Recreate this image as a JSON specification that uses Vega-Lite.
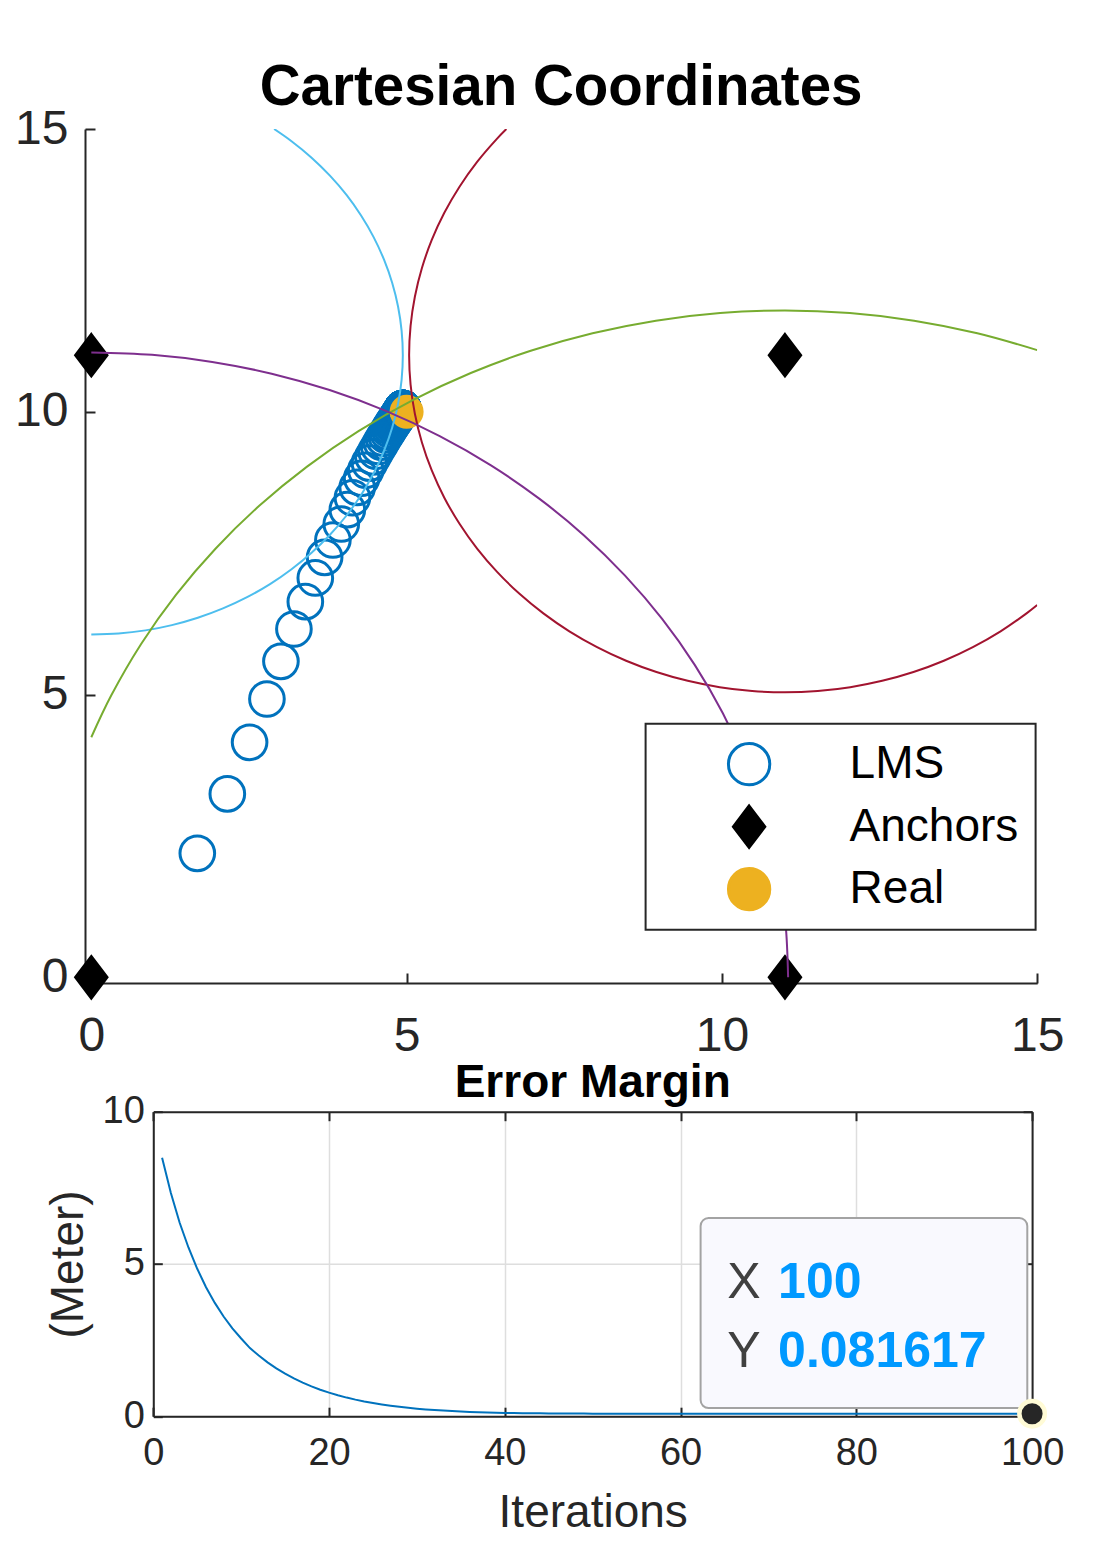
{
  "$schema": "https://vega.github.io/schema/vega-lite/v6.json",
  "background": "white",
  "padding": {"left": 14, "top": 59, "right": 10, "bottom": 10},
  "bounds": "flush",
  "spacing": 128.7,
  "datasets": {
    "lms": [
      {"k":1,"x":1.681,"y":2.192,"e":8.484},{"k":2,"x":2.157,"y":3.243,"e":7.331},{"k":3,"x":2.510,"y":4.155,"e":6.353},{"k":4,"x":2.785,"y":4.922,"e":5.540},{"k":5,"x":3.007,"y":5.587,"e":4.842},
      {"k":6,"x":3.213,"y":6.160,"e":4.236},{"k":7,"x":3.394,"y":6.643,"e":3.721},{"k":8,"x":3.552,"y":7.062,"e":3.275},{"k":9,"x":3.700,"y":7.426,"e":2.884},{"k":10,"x":3.831,"y":7.733,"e":2.551},
      {"k":11,"x":3.964,"y":8.016,"e":2.238},{"k":12,"x":4.060,"y":8.269,"e":1.991},{"k":13,"x":4.141,"y":8.479,"e":1.768},{"k":14,"x":4.217,"y":8.663,"e":1.570},{"k":15,"x":4.287,"y":8.824,"e":1.395},
      {"k":16,"x":4.352,"y":8.967,"e":1.240},{"k":17,"x":4.411,"y":9.093,"e":1.101},{"k":18,"x":4.465,"y":9.203,"e":0.978},{"k":19,"x":4.514,"y":9.301,"e":0.870},{"k":20,"x":4.558,"y":9.387,"e":0.773},
      {"k":21,"x":4.599,"y":9.463,"e":0.688},{"k":22,"x":4.635,"y":9.531,"e":0.611},{"k":23,"x":4.668,"y":9.591,"e":0.544},{"k":24,"x":4.697,"y":9.643,"e":0.485},{"k":25,"x":4.723,"y":9.689,"e":0.433},
      {"k":26,"x":4.746,"y":9.731,"e":0.386},{"k":27,"x":4.767,"y":9.768,"e":0.345},{"k":28,"x":4.786,"y":9.800,"e":0.308},{"k":29,"x":4.803,"y":9.829,"e":0.276},{"k":30,"x":4.818,"y":9.855,"e":0.248},
      {"k":31,"x":4.832,"y":9.877,"e":0.2234},{"k":32,"x":4.843,"y":9.897,"e":0.2022},{"k":33,"x":4.854,"y":9.915,"e":0.1832},{"k":34,"x":4.864,"y":9.931,"e":0.1673},{"k":35,"x":4.872,"y":9.945,"e":0.1526},
      {"k":36,"x":4.880,"y":9.957,"e":0.1410},{"k":37,"x":4.886,"y":9.968,"e":0.1306},{"k":38,"x":4.892,"y":9.978,"e":0.1219},{"k":39,"x":4.897,"y":9.986,"e":0.1146},{"k":40,"x":4.902,"y":9.994,"e":0.1085},
      {"k":41,"x":4.906,"y":10.001,"e":0.1034},{"k":42,"x":4.910,"y":10.007,"e":0.0992},{"k":43,"x":4.913,"y":10.012,"e":0.0958},{"k":44,"x":4.916,"y":10.017,"e":0.0930},{"k":45,"x":4.919,"y":10.021,"e":0.0907},
      {"k":46,"x":4.921,"y":10.025,"e":0.0888},{"k":47,"x":4.923,"y":10.029,"e":0.0873},{"k":48,"x":4.925,"y":10.032,"e":0.0862},{"k":49,"x":4.927,"y":10.034,"e":0.0852},{"k":50,"x":4.928,"y":10.036,"e":0.0845},
      {"k":51,"x":4.930,"y":10.038,"e":0.0839},{"k":52,"x":4.931,"y":10.040,"e":0.0834},{"k":53,"x":4.932,"y":10.042,"e":0.0830},{"k":54,"x":4.933,"y":10.043,"e":0.0827},{"k":55,"x":4.934,"y":10.045,"e":0.0825},
      {"k":56,"x":4.935,"y":10.046,"e":0.0823},{"k":57,"x":4.935,"y":10.047,"e":0.0822},{"k":58,"x":4.936,"y":10.048,"e":0.0821},{"k":59,"x":4.936,"y":10.049,"e":0.0820},{"k":60,"x":4.937,"y":10.050,"e":0.0819},
      {"k":61,"x":4.937,"y":10.050,"e":0.0818},{"k":62,"x":4.937,"y":10.051,"e":0.0818},{"k":63,"x":4.938,"y":10.051,"e":0.0818},{"k":64,"x":4.938,"y":10.052,"e":0.0818},{"k":65,"x":4.938,"y":10.052,"e":0.0817},
      {"k":66,"x":4.938,"y":10.053,"e":0.0817},{"k":67,"x":4.939,"y":10.053,"e":0.0817},{"k":68,"x":4.939,"y":10.053,"e":0.0817},{"k":69,"x":4.939,"y":10.053,"e":0.0817},{"k":70,"x":4.939,"y":10.054,"e":0.0817},
      {"k":71,"x":4.939,"y":10.054,"e":0.0817},{"k":72,"x":4.939,"y":10.054,"e":0.0817},{"k":73,"x":4.939,"y":10.054,"e":0.0816},{"k":74,"x":4.939,"y":10.054,"e":0.0816},{"k":75,"x":4.940,"y":10.054,"e":0.0816},
      {"k":76,"x":4.940,"y":10.054,"e":0.0816},{"k":77,"x":4.940,"y":10.054,"e":0.0816},{"k":78,"x":4.940,"y":10.055,"e":0.0816},{"k":79,"x":4.940,"y":10.055,"e":0.0816},{"k":80,"x":4.940,"y":10.055,"e":0.0816},
      {"k":81,"x":4.940,"y":10.055,"e":0.0816},{"k":82,"x":4.940,"y":10.055,"e":0.0816},{"k":83,"x":4.940,"y":10.055,"e":0.0816},{"k":84,"x":4.940,"y":10.055,"e":0.0816},{"k":85,"x":4.940,"y":10.055,"e":0.0816},
      {"k":86,"x":4.940,"y":10.055,"e":0.0816},{"k":87,"x":4.940,"y":10.055,"e":0.0816},{"k":88,"x":4.940,"y":10.055,"e":0.0816},{"k":89,"x":4.940,"y":10.055,"e":0.0816},{"k":90,"x":4.940,"y":10.055,"e":0.0816},
      {"k":91,"x":4.940,"y":10.055,"e":0.0816},{"k":92,"x":4.940,"y":10.055,"e":0.0816},{"k":93,"x":4.940,"y":10.055,"e":0.0816},{"k":94,"x":4.940,"y":10.055,"e":0.0816},{"k":95,"x":4.940,"y":10.055,"e":0.0816},
      {"k":96,"x":4.940,"y":10.055,"e":0.0816},{"k":97,"x":4.940,"y":10.055,"e":0.0816},{"k":98,"x":4.940,"y":10.055,"e":0.0816},{"k":99,"x":4.940,"y":10.055,"e":0.0816},{"k":100,"x":4.940,"y":10.055,"e":0.081617}
    ],
    "arcs": [
      {"a":"b","i":0,"x":2.899,"y":15.0},{"a":"b","i":1,"x":3.175,"y":14.784},{"a":"b","i":2,"x":3.493,"y":14.493},{"a":"b","i":3,"x":3.784,"y":14.175},{"a":"b","i":4,"x":4.047,"y":13.834},
      {"a":"b","i":5,"x":4.278,"y":13.470},{"a":"b","i":6,"x":4.477,"y":13.088},{"a":"b","i":7,"x":4.642,"y":12.689},{"a":"b","i":8,"x":4.772,"y":12.278},{"a":"b","i":9,"x":4.865,"y":11.858},
      {"a":"b","i":10,"x":4.921,"y":11.431},{"a":"b","i":11,"x":4.940,"y":11.0},{"a":"b","i":12,"x":4.921,"y":10.569},{"a":"b","i":13,"x":4.865,"y":10.142},{"a":"b","i":14,"x":4.772,"y":9.722},
      {"a":"b","i":15,"x":4.642,"y":9.311},{"a":"b","i":16,"x":4.477,"y":8.912},{"a":"b","i":17,"x":4.278,"y":8.530},{"a":"b","i":18,"x":4.047,"y":8.166},{"a":"b","i":19,"x":3.784,"y":7.825},
      {"a":"b","i":20,"x":3.493,"y":7.507},{"a":"b","i":21,"x":3.175,"y":7.216},{"a":"b","i":22,"x":2.834,"y":6.953},{"a":"b","i":23,"x":2.470,"y":6.722},{"a":"b","i":24,"x":2.088,"y":6.523},
      {"a":"b","i":25,"x":1.689,"y":6.358},{"a":"b","i":26,"x":1.278,"y":6.228},{"a":"b","i":27,"x":0.858,"y":6.135},{"a":"b","i":28,"x":0.431,"y":6.079},{"a":"b","i":29,"x":0.0,"y":6.060},
      {"a":"r","i":0,"x":6.582,"y":15.0},{"a":"r","i":1,"x":6.435,"y":14.831},{"a":"r","i":2,"x":6.118,"y":14.419},{"a":"r","i":3,"x":5.839,"y":13.980},{"a":"r","i":4,"x":5.598,"y":13.519},
      {"a":"r","i":5,"x":5.399,"y":13.038},{"a":"r","i":6,"x":5.243,"y":12.542},{"a":"r","i":7,"x":5.131,"y":12.035},{"a":"r","i":8,"x":5.063,"y":11.520},{"a":"r","i":9,"x":5.040,"y":11.0},
      {"a":"r","i":10,"x":5.063,"y":10.480},{"a":"r","i":11,"x":5.131,"y":9.965},{"a":"r","i":12,"x":5.243,"y":9.458},{"a":"r","i":13,"x":5.399,"y":8.962},{"a":"r","i":14,"x":5.598,"y":8.481},
      {"a":"r","i":15,"x":5.839,"y":8.020},{"a":"r","i":16,"x":6.118,"y":7.581},{"a":"r","i":17,"x":6.435,"y":7.169},{"a":"r","i":18,"x":6.786,"y":6.786},{"a":"r","i":19,"x":7.169,"y":6.435},
      {"a":"r","i":20,"x":7.581,"y":6.118},{"a":"r","i":21,"x":8.020,"y":5.839},{"a":"r","i":22,"x":8.481,"y":5.598},{"a":"r","i":23,"x":8.962,"y":5.399},{"a":"r","i":24,"x":9.458,"y":5.243},
      {"a":"r","i":25,"x":9.965,"y":5.131},{"a":"r","i":26,"x":10.480,"y":5.063},{"a":"r","i":27,"x":11.0,"y":5.040},{"a":"r","i":28,"x":11.520,"y":5.063},{"a":"r","i":29,"x":12.035,"y":5.131},
      {"a":"r","i":30,"x":12.542,"y":5.243},{"a":"r","i":31,"x":13.038,"y":5.399},{"a":"r","i":32,"x":13.519,"y":5.598},{"a":"r","i":33,"x":13.980,"y":5.839},{"a":"r","i":34,"x":14.419,"y":6.118},
      {"a":"r","i":35,"x":14.831,"y":6.435},{"a":"r","i":36,"x":15.0,"y":6.582},
      {"a":"g","i":0,"x":0.0,"y":4.245},{"a":"g","i":1,"x":0.315,"y":4.982},{"a":"g","i":2,"x":0.790,"y":5.895},{"a":"g","i":3,"x":1.342,"y":6.763},{"a":"g","i":4,"x":1.969,"y":7.579},
      {"a":"g","i":5,"x":2.663,"y":8.337},{"a":"g","i":6,"x":3.421,"y":9.031},{"a":"g","i":7,"x":4.237,"y":9.658},{"a":"g","i":8,"x":5.105,"y":10.210},{"a":"g","i":9,"x":6.018,"y":10.685},
      {"a":"g","i":10,"x":6.968,"y":11.079},{"a":"g","i":11,"x":7.949,"y":11.388},{"a":"g","i":12,"x":8.953,"y":11.611},{"a":"g","i":13,"x":9.972,"y":11.745},{"a":"g","i":14,"x":11.0,"y":11.790},
      {"a":"g","i":15,"x":12.028,"y":11.745},{"a":"g","i":16,"x":13.047,"y":11.611},{"a":"g","i":17,"x":14.051,"y":11.388},{"a":"g","i":18,"x":15.0,"y":11.090},
      {"a":"p","i":0,"x":0.0,"y":11.05},{"a":"p","i":1,"x":0.963,"y":11.008},{"a":"p","i":2,"x":1.918,"y":10.882},{"a":"p","i":3,"x":2.860,"y":10.673},{"a":"p","i":4,"x":3.779,"y":10.384},
      {"a":"p","i":5,"x":4.670,"y":10.015},{"a":"p","i":6,"x":5.525,"y":9.569},{"a":"p","i":7,"x":6.338,"y":9.052},{"a":"p","i":8,"x":7.103,"y":8.464},{"a":"p","i":9,"x":7.814,"y":7.814},
      {"a":"p","i":10,"x":8.464,"y":7.103},{"a":"p","i":11,"x":9.052,"y":6.338},{"a":"p","i":12,"x":9.569,"y":5.525},{"a":"p","i":13,"x":10.015,"y":4.670},{"a":"p","i":14,"x":10.384,"y":3.779},
      {"a":"p","i":15,"x":10.673,"y":2.860},{"a":"p","i":16,"x":10.882,"y":1.918},{"a":"p","i":17,"x":11.008,"y":0.963},{"a":"p","i":18,"x":11.05,"y":0.0}
    ],
    "anchors": [{"x":0,"y":0},{"x":0,"y":11},{"x":11,"y":11},{"x":11,"y":0}],
    "real": [{"x":5,"y":10}],
    "tip": [{"k":100,"e":0.081617}]
  },
  "vconcat": [
    {
      "width": 952.2,
      "height": 854,
      "title": {"text": "Cartesian Coordinates", "fontSize": 56.5, "fontWeight": "bold", "color": "black", "anchor": "middle", "offset": -11.3},
      "encoding": {
        "x": {"field": "x", "type": "quantitative", "scale": {"domain": [-0.1, 15], "nice": false, "zero": false},
              "axis": {"values": [0, 5, 10, 15], "format": "d", "title": null, "grid": false, "tickSize": -10, "labelPadding": 39, "labelFontSize": 48}},
        "y": {"field": "y", "type": "quantitative", "scale": {"domain": [-0.1, 15], "nice": false, "zero": false},
              "axis": {"values": [0, 5, 10, 15], "format": "d", "title": null, "grid": false, "tickSize": -10, "labelPadding": 27, "labelFontSize": 48}}
      },
      "layer": [
        {
          "data": {"name": "lms"},
          "mark": {"type": "point", "filled": true, "strokeWidth": 3, "opacity": 1, "size": 1200},
          "encoding": {
            "fill": {"datum": "LMS", "type": "nominal", "title": null,
                     "scale": {"domain": ["LMS", "Anchors", "Real"], "range": ["transparent", "black", "#EDB120"]},
                     "legend": {"encode": {"symbols": {"update": {"size": {"signal": "datum.value === 'Anchors' ? 1706 : datum.value === 'Real' ? 961 : 1200"}}}}}},
            "stroke": {"datum": "LMS", "type": "nominal", "title": null,
                       "scale": {"domain": ["LMS", "Anchors", "Real"], "range": ["#0072BD", "black", "#EDB120"]},
                       "legend": {"encode": {"symbols": {"update": {"size": {"signal": "datum.value === 'Anchors' ? 1706 : datum.value === 'Real' ? 961 : 1200"}}}}}},
            "shape": {"datum": "LMS", "type": "nominal", "title": null,
                      "scale": {"domain": ["LMS", "Anchors", "Real"], "range": ["circle", "M0,-1L0.758,0L0,1L-0.758,0Z", "circle"]},
                      "legend": {"encode": {"symbols": {"update": {"size": {"signal": "datum.value === 'Anchors' ? 1706 : datum.value === 'Real' ? 961 : 1200"}}}}}}
          }
        },
        {
          "data": {"name": "anchors"},
          "mark": {"type": "point", "filled": true, "strokeWidth": 3, "opacity": 1, "size": 1706},
          "encoding": {
            "fill": {"datum": "Anchors", "type": "nominal", "title": null},
            "stroke": {"datum": "Anchors", "type": "nominal", "title": null},
            "shape": {"datum": "Anchors", "type": "nominal", "title": null}
          }
        },
        {
          "data": {"name": "real"},
          "mark": {"type": "point", "filled": true, "strokeWidth": 3, "opacity": 1, "size": 961},
          "encoding": {
            "fill": {"datum": "Real", "type": "nominal", "title": null},
            "stroke": {"datum": "Real", "type": "nominal", "title": null},
            "shape": {"datum": "Real", "type": "nominal", "title": null}
          }
        },
        {
          "data": {"name": "arcs"},
          "mark": {"type": "line", "strokeWidth": 2, "clip": true, "interpolate": "catmull-rom"},
          "encoding": {
            "color": {"field": "a", "type": "nominal", "scale": {"domain": ["b", "r", "g", "p"], "range": ["#4DBEEE", "#A2142F", "#77AC30", "#7E2F8E"]}, "legend": null},
            "order": {"field": "i", "type": "quantitative"}
          }
        }
      ]
    },
    {
      "width": 947.1,
      "height": 304.5,
      "title": {"text": "Error Margin", "fontSize": 46, "fontWeight": "bold", "color": "black", "anchor": "middle", "offset": -14.7, "dx": 34.15},
      "resolve": {"axis": {"x": "independent", "y": "independent"}},
      "layer": [
        {
          "data": {"name": "lms"},
          "mark": {"type": "line", "color": "#0072BD", "strokeWidth": 2},
          "encoding": {
            "x": {"field": "k", "type": "quantitative", "scale": {"domain": [0, 100], "range": [68.3, 947.1], "nice": false, "zero": false},
                  "axis": {"orient": "bottom", "values": [0, 20, 40, 60, 80, 100], "format": "d", "title": "Iterations", "titleFontSize": 46, "titlePadding": 18, "grid": true, "tickSize": -9, "labelPadding": 27.5, "labelFontSize": 38}},
            "y": {"field": "e", "type": "quantitative", "scale": {"domain": [0, 10], "nice": false, "zero": false},
                  "axis": {"orient": "left", "offset": -68.3, "values": [0, 5, 10], "format": "d", "title": "(Meter)", "titleFontSize": 46, "titlePadding": 10, "grid": true, "tickSize": -9, "labelPadding": 18, "labelFontSize": 38}}
          }
        },
        {
          "data": {"name": "tip"},
          "mark": {"type": "rect", "fill": "#f9f9fe", "stroke": "#a3a3a3", "strokeWidth": 2, "cornerRadius": 8, "xOffset": -331.5, "x2Offset": -4.8, "yOffset": -195.7, "y2Offset": -5.7},
          "encoding": {
            "x": {"field": "k", "type": "quantitative", "axis": {"orient": "top", "values": [0, 20, 40, 60, 80, 100], "labels": false, "grid": false, "tickSize": -9, "title": null}},
            "x2": {"field": "k"},
            "y": {"field": "e", "type": "quantitative", "axis": {"orient": "right", "values": [0, 5, 10], "labels": false, "grid": false, "tickSize": -9, "title": null}},
            "y2": {"field": "e"}
          }
        },
        {
          "data": {"name": "tip"},
          "mark": {"type": "text", "text": "X", "align": "left", "baseline": "alphabetic", "dx": -304.8, "dy": -115.7, "fontSize": 50, "color": "#404040"},
          "encoding": {"x": {"field": "k", "type": "quantitative", "axis": null}, "y": {"field": "e", "type": "quantitative", "axis": null}}
        },
        {
          "data": {"name": "tip"},
          "mark": {"type": "text", "text": "Y", "align": "left", "baseline": "alphabetic", "dx": -304.8, "dy": -46.3, "fontSize": 50, "color": "#404040"},
          "encoding": {"x": {"field": "k", "type": "quantitative", "axis": null}, "y": {"field": "e", "type": "quantitative", "axis": null}}
        },
        {
          "data": {"name": "tip"},
          "mark": {"type": "text", "align": "left", "baseline": "alphabetic", "dx": -254, "dy": -115.7, "fontSize": 50, "fontWeight": "bold", "color": "#0099FF"},
          "encoding": {"x": {"field": "k", "type": "quantitative", "axis": null}, "y": {"field": "e", "type": "quantitative", "axis": null}, "text": {"field": "k", "type": "quantitative", "format": "d"}}
        },
        {
          "data": {"name": "tip"},
          "mark": {"type": "text", "align": "left", "baseline": "alphabetic", "dx": -254, "dy": -46.3, "fontSize": 50, "fontWeight": "bold", "color": "#0099FF"},
          "encoding": {"x": {"field": "k", "type": "quantitative", "axis": null}, "y": {"field": "e", "type": "quantitative", "axis": null}, "text": {"field": "e", "type": "quantitative", "format": ".6f"}}
        },
        {
          "data": {"name": "tip"},
          "mark": {"type": "point", "shape": "circle", "filled": true, "fill": "#262626", "stroke": "#fffbd6", "strokeWidth": 4.5, "size": 650, "opacity": 1},
          "encoding": {"x": {"field": "k", "type": "quantitative", "axis": null}, "y": {"field": "e", "type": "quantitative", "axis": null}}
        }
      ]
    }
  ],
  "config": {
    "font": "Liberation Sans",
    "view": {"stroke": null},
    "axis": {"domainColor": "#262626", "domainWidth": 2, "tickColor": "#262626", "tickWidth": 2, "labelColor": "#262626", "titleColor": "#262626",
             "labelFlush": false, "labelOverlap": false, "labelFont": "Liberation Sans", "titleFont": "Liberation Sans", "titleFontWeight": "normal",
             "gridColor": "#dedede", "gridWidth": 1.5},
    "legend": {"orient": "none", "legendX": 560.6, "legendY": 594.7, "direction": "vertical", "title": null, "labelFont": "Liberation Sans", "labelFontSize": 46, "labelColor": "black", "labelLimit": 400,
               "padding": 17, "strokeColor": "#262626", "strokeWidth": 2, "fillColor": "white", "symbolSize": 1706, "symbolOffset": 63.5, "labelOffset": 77.5, "rowPadding": 15.5, "symbolStrokeWidth": 3, "clipHeight": 47},
    "title": {"font": "Liberation Sans"}
  }
}
